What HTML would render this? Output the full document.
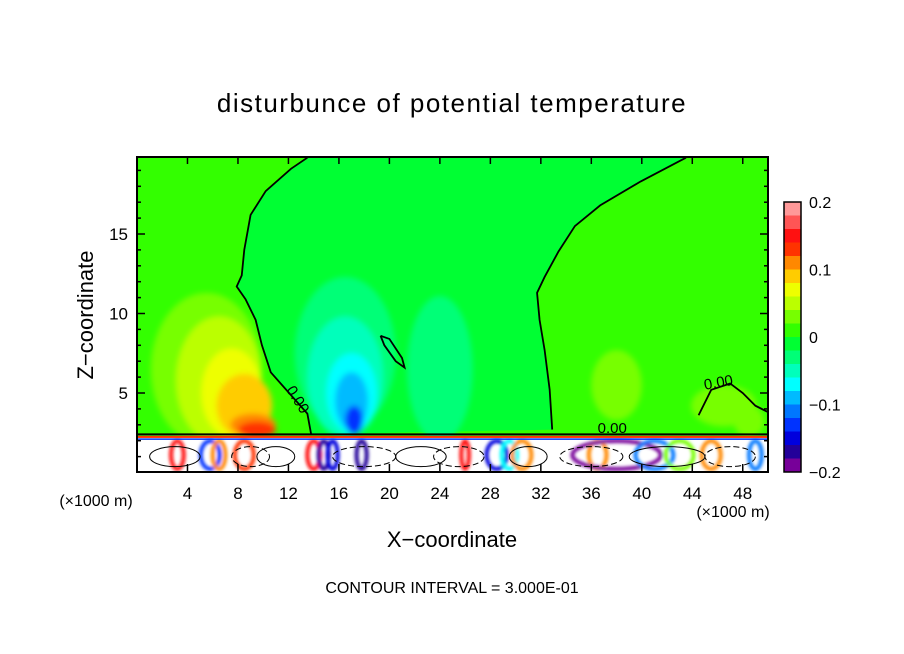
<!DOCTYPE html>
<html><head><meta charset="utf-8"><style>
body{margin:0;background:#fff;}
svg{display:block;font-family:"Liberation Sans",sans-serif;}
</style></head><body>
<svg id="c" width="904" height="654" viewBox="0 0 904 654">
<defs>
<clipPath id="pc"><rect x="137" y="157" width="631" height="315"/></clipPath>
<filter id="bl" x="-50%" y="-50%" width="200%" height="200%"><feGaussianBlur stdDeviation="3"/></filter>
<filter id="bl2" x="-50%" y="-50%" width="200%" height="200%"><feGaussianBlur stdDeviation="1.5"/></filter>
</defs>
<text x="452" y="112" text-anchor="middle" font-size="26" letter-spacing="1.5">disturbunce of potential temperature</text>
<g id="plot" clip-path="url(#pc)"></g>
<rect x="137" y="157" width="631" height="315" fill="none" stroke="#000" stroke-width="2"/>
<g id="axes"></g>
<g id="cbar"></g>
<text x="96" y="506" text-anchor="middle" font-size="16">(×1000 m)</text>
<text x="733" y="517" text-anchor="middle" font-size="16">(×1000 m)</text>
<text x="452" y="547" text-anchor="middle" font-size="22">X−coordinate</text>
<text transform="translate(93,315) rotate(-90)" text-anchor="middle" font-size="22">Z−coordinate</text>
<text x="452" y="593" text-anchor="middle" font-size="16">CONTOUR INTERVAL = 3.000E-01</text>
</svg>
<script>
const xTicks=[4,8,12,16,20,24,28,32,36,40,44,48];
const zTicks=[5,10,15];
const cbLevels=[0.2,0.18,0.16,0.14,0.12,0.1,0.08,0.06,0.04,0.02,0,-0.02,-0.04,-0.06,-0.08,-0.1,-0.12,-0.14,-0.16,-0.18];
const cbColors=["#ff9999","#ff5555","#ff1111","#ff3300","#ff8800","#ffcc00","#eeff00","#bbff00","#77ff00","#33ff00","#00ff33","#00ff77","#00ffbb","#00ffff","#00bbff","#0077ff","#0033ff","#0000dd","#220099","#770099"];
const cbLabels=[0.2,0.1,0,-0.1,-0.2];
// blobs: x(km), z(km), rx(km), rz(km), value
const blobX=[5.5,6.5,7.5,8.5,9.2,9.5,16.5,16.5,17,17,17.2,24,24,38,46.5,48.5];
const blobZ=[6.5,5.8,5,4.2,3.0,2.7,7.5,6,5,4.5,3.3,6.5,5,5.5,4.2,3.2];
const blobRX=[4.4,3.4,2.4,2.2,1.8,1.5,4,3,2,1.3,0.7,2.6,1.8,2,2.6,1.2];
const blobRZ=[4.8,4.0,2.8,2.0,0.7,0.5,4.8,3.8,2.5,1.8,0.9,4.6,3,2.2,1.3,1];
const blobV=[0.04,0.06,0.08,0.1,0.12,0.14,-0.02,-0.04,-0.06,-0.08,-0.12,-0.02,-0.02,0.04,0.04,0.04];
// contour lines (x km, z km)
const c1X=[13.5,12.2,10.2,9.0,8.5,8.3,7.9,8.6,9.4,9.9,10.6,13.5,13.8];
const c1Z=[19.8,19.1,17.7,16.2,14,12.4,11.7,10.9,9.6,8.0,6.3,3.7,2.4];
const c2X=[43.5,39.9,36.7,34.7,33.4,32.3,31.7,31.9,32.3,32.7,32.9];
const c2Z=[19.8,18.3,16.8,15.5,13.9,12.3,11.3,9.6,7.7,5.2,2.7];
const c3X=[19.3,20.0,21.0,21.2,20.5,19.6,19.3];
const c3Z=[8.6,8.4,7.2,6.6,7.0,8.0,8.6];
const c4X=[44.5,45.5,47,48,49,50];
const c4Z=[3.6,5.2,5.6,5.0,4.2,3.8];
const X0=137,X1=768,Z0=472.5,ZS=15.9;
const sx=v=>X0+(X1-X0)*v/50, sz=v=>Z0-ZS*v;
const ns="http://www.w3.org/2000/svg";
function mk(t,a,p){const e=document.createElementNS(ns,t);for(const k in a)e.setAttribute(k,a[k]);p.appendChild(e);return e;}
function col(v){let i=cbLevels.findIndex(l=>v>=l-1e-9&&v<l+0.02-1e-9);if(i<0)i=v>0?0:19;return cbColors[i];}
const plot=document.getElementById('plot');
const bg=mk('rect',{x:137,y:157,width:631,height:315,fill:'#33ff00'},plot);


let mid="M"+c1X.map((x,i)=>sx(x)+","+sz(c1Z[i])).join(" L");
for(let i=c2X.length-1;i>=0;i--)mid+=" L"+sx(c2X[i])+","+sz(c2Z[i]);
const mr=mk('path',{d:mid+"Z",fill:'#00ff33'},plot);


const bgb=mk('g',{filter:'url(#bl)'},plot);
blobX.forEach((x,i)=>{
 const e=mk('ellipse',{cx:sx(x),cy:sz(blobZ[i]),rx:blobRX[i]*12.62,ry:blobRZ[i]*ZS,fill:col(blobV[i])},bgb);
 
 
});
const sl=mk('rect',{x:137,y:sz(2.3),width:631,height:sz(0)-sz(2.3)+2,fill:'#fff'},plot);


// surface anomalies: x, width(km), value
const sfX=[3.2,5.8,6.5,8.5,14,14.8,15.5,17.8,26,28.5,29.5,30.5,36.5,38,41,43,45.5,49];
const sfW=[1,1.5,1,1.5,1,0.8,0.8,0.8,0.6,1.6,1.2,1.5,1.4,7,3,2.2,1.5,1];
const sfV=[0.16,-0.12,0.12,0.14,0.16,-0.16,-0.14,-0.16,0.16,-0.14,-0.06,0.12,0.12,-0.18,-0.1,0.04,0.12,-0.1];
const sg=mk('g',{filter:'url(#bl2)'},plot);
sfX.forEach((x,i)=>{
 const e=mk('ellipse',{cx:sx(x),cy:sz(1.1),rx:sfW[i]*12.62/2,ry:14,fill:'none',stroke:col(sfV[i]),'stroke-width':4},sg);
 
 
});
mk('rect',{x:137,y:sz(2.3),width:631,height:2,fill:'#ff3300'},plot);
mk('line',{x1:137,y1:sz(2.1),x2:768,y2:sz(2.1),stroke:'#0033ff','stroke-width':1.5},plot);
mk('line',{x1:137,y1:sz(2.4),x2:768,y2:sz(2.4),stroke:'#000','stroke-width':2},plot);
const loopX=[3,9,11,18,22.5,25.5,31,36,42,47];
const loopW=[4,3,3,5,4,4,3,5,6,4];
loopX.forEach((x,i)=>{
 const e=mk('ellipse',{cx:sx(x),cy:sz(1),rx:loopW[i]*12.62/2,ry:10,fill:'none',stroke:'#000','stroke-width':1,'stroke-dasharray':i%2?'6 3':'none'},plot);
 
 
});
[[c1X,c1Z],[c2X,c2Z],[c3X,c3Z],[c4X,c4Z]].forEach(([xs,zs],k)=>{
 const p=mk('polyline',{points:xs.map((x,i)=>sx(x)+","+sz(zs[i])).join(" "),fill:'none',stroke:'#000','stroke-width':1.8},plot);
 
 
});
[[11.8,5.2,58],[36.5,2.5,0],[45,5.2,-10]].forEach(([x,z,r])=>{
 const t=mk('text',{x:sx(x),y:sz(z),'font-size':15,transform:`rotate(${r},${sx(x)},${sz(z)})`},plot);
 t.textContent='0.00';
 
 
});
const ax=document.getElementById('axes');
xTicks.forEach(v=>{
 mk('line',{x1:sx(v),y1:472,x2:sx(v),y2:464,stroke:'#000','stroke-width':1.5},ax);
 mk('line',{x1:sx(v),y1:157,x2:sx(v),y2:164,stroke:'#000','stroke-width':1.5},ax);
 const t=mk('text',{x:sx(v),y:499,'text-anchor':'middle','font-size':17},ax);
 t.textContent=v;
 
 
});
for(let v=1;v<20;v++){const L=v%5==0?8:4;
 mk('line',{x1:137,y1:sz(v),x2:137+L,y2:sz(v),stroke:'#000','stroke-width':1.5},ax);
 mk('line',{x1:768,y1:sz(v),x2:768-L,y2:sz(v),stroke:'#000','stroke-width':1.5},ax);}
zTicks.forEach(v=>{
 const t=mk('text',{x:128,y:sz(v)+6,'text-anchor':'end','font-size':17},ax);
 t.textContent=v;
 
 
});
const cb=document.getElementById('cbar');
const CT=202,CB=472,CH=(CB-CT)/cbColors.length;
cbColors.forEach((c,i)=>{
 const r=mk('rect',{x:784,y:CT+i*CH,width:17,height:CH+0.5,fill:c},cb);
 
 
});
mk('rect',{x:784,y:CT,width:17,height:CB-CT,fill:'none',stroke:'#000','stroke-width':1.5},cb);
cbLabels.forEach(v=>{
 const y=CT+(0.2-v)/0.4*(CB-CT);
 const t=mk('text',{x:809,y:y+6,'font-size':16},cb);
 t.textContent=v==0?'0':(v<0?'−'+(-v):v);
 
 
});
</script>
</body></html>
